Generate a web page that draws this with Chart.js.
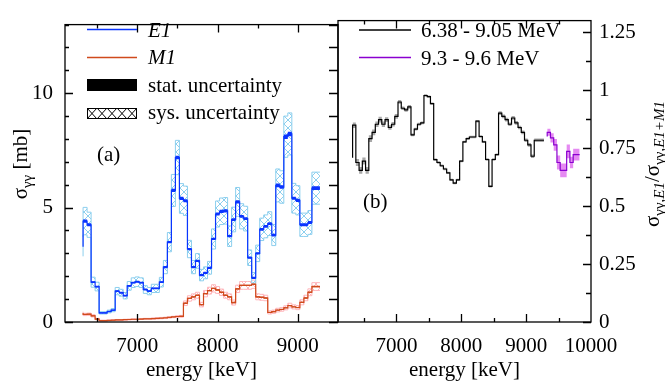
<!DOCTYPE html>
<html lang="en">
<head>
<meta charset="UTF-8">
<title>E1 / M1 cross sections</title>
<script src="https://cdn.jsdelivr.net/npm/chart.js"></script>
<style>
  body { margin: 0; background: #fff; }
  #wrap { position: relative; width: 665px; height: 387px; }
  #wrap canvas { position: absolute; left: 0; top: 0; }
</style>
</head>
<body>
<div id="wrap">
  <canvas id="left" width="665" height="387"></canvas>
  <canvas id="right" width="665" height="387"></canvas>
</div>
<script>
// 50 keV bins, first bin starts at 6325 keV
const binStart = 6325;
const binWidth = 50;

// panel (a): sigma_gg in mb
const e1Values = [3.29, 4.41, 4.25, 1.74, 1.55, 0.40, 0.40, 0.46, 0.52, 1.35,
                  1.28, 1.15, 1.58, 1.72, 1.76, 1.72, 1.42, 1.35, 1.47, 1.47,
                  1.74, 2.40, 3.49, 5.75, 7.19, 5.40, 5.30, 3.19, 2.40, 2.67,
                  2.05, 2.15, 2.37, 3.63, 4.72, 4.84, 4.86, 3.75, 4.48, 5.25,
                  4.62, 4.52, 2.81, 1.93, 3.00, 4.05, 4.18, 4.30, 3.80, 5.97,
                  5.90, 8.10, 8.22, 5.41, 5.32, 4.25, 4.25, 4.35, 5.85];
const e1Stat = [0.06, 0.07, 0.07, 0.04, 0.04, 0.03, 0.03, 0.03, 0.03, 0.04,
                0.04, 0.04, 0.04, 0.04, 0.04, 0.04, 0.04, 0.04, 0.04, 0.04,
                0.04, 0.05, 0.05, 0.07, 0.08, 0.07, 0.07, 0.05, 0.05, 0.05,
                0.05, 0.05, 0.05, 0.05, 0.07, 0.07, 0.07, 0.05, 0.06, 0.07,
                0.06, 0.06, 0.05, 0.05, 0.05, 0.06, 0.06, 0.06, 0.06, 0.08,
                0.08, 0.10, 0.10, 0.07, 0.07, 0.07, 0.07, 0.07, 0.08];
const e1Sys = [0.42, 0.60, 0.55, 0.22, 0.19, 0.05, 0.05, 0.06, 0.07, 0.16,
               0.15, 0.14, 0.19, 0.21, 0.21, 0.21, 0.17, 0.16, 0.18, 0.18,
               0.21, 0.29, 0.42, 0.70, 0.75, 0.65, 0.64, 0.38, 0.29, 0.32,
               0.25, 0.26, 0.28, 0.44, 0.57, 0.58, 0.58, 0.45, 0.54, 0.63,
               0.55, 0.54, 0.34, 0.23, 0.36, 0.49, 0.50, 0.52, 0.46, 0.72,
               0.71, 0.90, 0.92, 0.65, 0.64, 0.51, 0.51, 0.52, 0.70];
const m1Values = [0.39, 0.33, 0.34, 0.27, 0.13, 0.06, 0.06, 0.07, 0.08, 0.09,
                  0.09, 0.10, 0.11, 0.12, 0.12, 0.13, 0.14, 0.14, 0.15, 0.16,
                  0.17, 0.18, 0.20, 0.22, 0.24, 0.25, 0.82, 1.03, 1.10, 1.17,
                  0.76, 1.24, 1.37, 1.47, 1.40, 1.30, 1.17, 1.10, 0.85, 1.45,
                  1.60, 1.60, 1.60, 1.65, 1.10, 1.08, 1.05, 0.42, 0.45, 0.52,
                  0.55, 0.62, 0.72, 0.66, 0.63, 0.86, 1.05, 1.30, 1.55];
const m1Stat = [0.02, 0.02, 0.02, 0.02, 0.02, 0.01, 0.01, 0.01, 0.01, 0.01,
                0.01, 0.01, 0.01, 0.01, 0.01, 0.01, 0.01, 0.01, 0.01, 0.01,
                0.01, 0.01, 0.01, 0.01, 0.02, 0.02, 0.03, 0.03, 0.03, 0.03,
                0.03, 0.03, 0.03, 0.03, 0.03, 0.03, 0.03, 0.03, 0.03, 0.03,
                0.03, 0.03, 0.03, 0.03, 0.03, 0.03, 0.03, 0.02, 0.02, 0.02,
                0.02, 0.02, 0.02, 0.02, 0.02, 0.03, 0.03, 0.03, 0.03];
const m1Sys = [0.06, 0.05, 0.05, 0.05, 0.03, 0.02, 0.02, 0.02, 0.02, 0.02,
               0.02, 0.02, 0.02, 0.02, 0.02, 0.02, 0.02, 0.02, 0.03, 0.03,
               0.03, 0.03, 0.03, 0.03, 0.04, 0.04, 0.10, 0.12, 0.13, 0.13,
               0.10, 0.14, 0.15, 0.16, 0.15, 0.14, 0.13, 0.13, 0.11, 0.16,
               0.17, 0.17, 0.17, 0.18, 0.13, 0.13, 0.12, 0.07, 0.07, 0.08,
               0.08, 0.09, 0.10, 0.09, 0.09, 0.11, 0.12, 0.15, 0.17];

// panel (b): sigma_E1 / sigma_E1+M1
const ratioValues = [0.708, 0.849, 0.688, 0.654, 0.694, 0.654, 0.791, 0.818, 0.853, 0.873,
                     0.853, 0.873, 0.839, 0.853, 0.887, 0.949, 0.922, 0.915, 0.928, 0.807,
                     0.832, 0.853, 0.859, 0.977, 0.972, 0.942, 0.700, 0.688, 0.674, 0.660,
                     0.643, 0.613, 0.599, 0.613, 0.694, 0.777, 0.791, 0.798, 0.798, 0.866,
                     0.800, 0.777, 0.701, 0.585, 0.701, 0.722, 0.901, 0.887, 0.873, 0.853,
                     0.880, 0.859, 0.839, 0.818, 0.784, 0.764, 0.715, 0.784, 0.784];
const ratioErr = [0.015, 0.012, 0.015, 0.015, 0.015, 0.015, 0.015, 0.012, 0.012, 0.012,
                  0.012, 0.010, 0.010, 0.010, 0.010, 0.008, 0.008, 0.008, 0.008, 0.006,
                  0.006, 0.006, 0.006, 0.005, 0.005, 0.005, 0.005, 0.005, 0.005, 0.005,
                  0.005, 0.005, 0.005, 0.005, 0.005, 0.005, 0.005, 0.005, 0.005, 0.005,
                  0.005, 0.005, 0.005, 0.005, 0.005, 0.005, 0.008, 0.008, 0.008, 0.008,
                  0.008, 0.008, 0.008, 0.008, 0.008, 0.008, 0.008, 0.008, 0.008];
const highStart = 9325;
const highValues = [0.800, 0.818, 0.794, 0.764, 0.688, 0.654, 0.654, 0.736, 0.688, 0.722];
const highErr = [0.012, 0.015, 0.020, 0.025, 0.030, 0.030, 0.030, 0.030, 0.025, 0.025];

// axis labels and tick marks
const xLeftLabels = [7000, 8000, 9000];
const xRightLabels = [7000, 8000, 9000, 10000];
const xTickMarks = [6500, 7000, 7500, 8000, 8500, 9000, 9500];
const yLeftLabels = [0, 5, 10];
const yRightLabels = [0, 0.25, 0.5, 0.75, 1, 1.25];

const serif = "'Liberation Serif', 'Times New Roman', serif";
const fontSize = 21;
const e1Color = '#0a35ff';
const e1SysColor = '#8ccfee';
const m1Color = '#d04a1c';
const m1SysColor = '#ffb6bc';
const highColor = '#8a00d0';
const highBand = '#e58af2';

function hatch(canvasId, color, bg, w, h) {
  const tile = document.createElement('canvas');
  tile.width = w || 8; tile.height = h || 8;
  const g = tile.getContext('2d');
  if (bg) { g.fillStyle = bg; g.fillRect(0, 0, tile.width, tile.height); }
  g.strokeStyle = color;
  g.lineWidth = 1;
  g.beginPath();
  g.moveTo(0, 0); g.lineTo(tile.width, tile.height);
  g.moveTo(tile.width, 0); g.lineTo(0, tile.height);
  g.stroke();
  return document.getElementById(canvasId).getContext('2d').createPattern(tile, 'repeat');
}

// histogram as step points: one point per bin edge, last value closes the final bin
function stepPoints(start, vals, err, sign) {
  const pts = vals.map((v, i) => ({ x: start + i * binWidth, y: err ? v + sign * err[i] : v }));
  pts.push({ x: start + vals.length * binWidth, y: pts[pts.length - 1].y });
  return pts;
}

function lineSet(start, vals, color, width) {
  return { data: stepPoints(start, vals), borderColor: color, borderWidth: width,
           stepped: 'after', pointRadius: 0, fill: false, order: 0 };
}

// lower + upper edge, the upper one filled down to the lower one
function bandSets(start, vals, err, fillStyle, edgeColor, order) {
  const edge = edgeColor ? { borderColor: edgeColor, borderWidth: 1 } : { borderColor: 'transparent', borderWidth: 0 };
  return [
    Object.assign({ data: stepPoints(start, vals, err, -1), stepped: 'after', pointRadius: 0, fill: false, order }, edge),
    Object.assign({ data: stepPoints(start, vals, err, 1), stepped: 'after', pointRadius: 0,
                    fill: '-1', backgroundColor: fillStyle, order }, edge)
  ];
}

// frame with inward ticks on every side
const frameTicks = {
  id: 'frameTicks',
  afterDatasetsDraw(chart, args, o) {
    const { ctx, chartArea: a, scales: { x, y } } = chart;
    ctx.save();
    ctx.strokeStyle = '#000';
    ctx.lineWidth = 1.3;
    ctx.beginPath();
    o.xTicks.forEach(v => {
      const px = Math.round(x.getPixelForValue(v)) + 0.5;
      const len = v % 1000 === 0 ? 8 : 4;
      ctx.moveTo(px, a.bottom); ctx.lineTo(px, a.bottom - len);
      ctx.moveTo(px, a.top); ctx.lineTo(px, a.top + len);
    });
    (o.leftTicks || []).forEach(t => {
      const py = Math.round(y.getPixelForValue(t[0])) + 0.5;
      ctx.moveTo(a.left, py); ctx.lineTo(a.left + t[1], py);
    });
    (o.rightTicks || []).forEach(t => {
      const py = Math.round(y.getPixelForValue(t[0])) + 0.5;
      ctx.moveTo(a.right, py); ctx.lineTo(a.right - t[1], py);
    });
    ctx.stroke();
    ctx.strokeRect(a.left, a.top, a.right - a.left, a.bottom - a.top);
    ctx.restore();
  }
};

// rotated axis title built from runs of text (for subscripts)
function rotatedTitle(ctx, runs, cx, cy) {
  ctx.save();
  ctx.translate(cx, cy);
  ctx.rotate(-Math.PI / 2);
  let total = 0;
  runs.forEach(r => {
    ctx.font = (r.it ? 'italic ' : '') + r.size + 'px ' + serif;
    r.w = ctx.measureText(r.t).width;
    total += r.w;
  });
  let px = -total / 2;
  ctx.fillStyle = '#000';
  ctx.textBaseline = 'alphabetic';
  runs.forEach(r => {
    ctx.font = (r.it ? 'italic ' : '') + r.size + 'px ' + serif;
    ctx.fillText(r.t, px, r.dy);
    px += r.w;
  });
  ctx.restore();
}

const leftDecor = {
  id: 'leftDecor',
  afterDraw(chart) {
    const ctx = chart.ctx;
    ctx.save();
    ctx.lineWidth = 1.5;
    ctx.strokeStyle = e1Color;
    ctx.beginPath(); ctx.moveTo(87, 29.5); ctx.lineTo(137, 29.5); ctx.stroke();
    ctx.strokeStyle = m1Color;
    ctx.beginPath(); ctx.moveTo(87, 57.5); ctx.lineTo(137, 57.5); ctx.stroke();
    ctx.fillStyle = '#000';
    ctx.fillRect(87, 79, 50, 12);
    ctx.save();
    ctx.translate(87, 108);
    ctx.fillStyle = hatch('left', '#000', '#fff', 10, 11);
    ctx.fillRect(0, 0, 50, 11);
    ctx.restore();
    ctx.lineWidth = 1;
    ctx.strokeStyle = '#000';
    ctx.strokeRect(87.5, 108.5, 49, 10);

    ctx.fillStyle = '#000';
    ctx.textBaseline = 'alphabetic';
    ctx.font = 'italic ' + fontSize + 'px ' + serif;
    ctx.fillText('E1', 148, 37);
    ctx.fillText('M1', 148, 64);
    ctx.font = fontSize + 'px ' + serif;
    ctx.fillText('stat. uncertainty', 148, 92);
    ctx.fillText('sys. uncertainty', 148, 119);
    ctx.fillText('(a)', 97, 161);
    ctx.restore();

    rotatedTitle(ctx, [
      { t: 'σ', size: fontSize, dy: 0 },
      { t: 'γγ', size: 15, dy: 5 },
      { t: ' [mb]', size: fontSize, dy: 0 }
    ], 27, 164);
  }
};

const rightDecor = {
  id: 'rightDecor',
  afterDraw(chart) {
    const ctx = chart.ctx;
    ctx.save();
    ctx.lineWidth = 1.3;
    ctx.strokeStyle = '#000';
    ctx.beginPath(); ctx.moveTo(359, 30); ctx.lineTo(411, 30); ctx.stroke();
    ctx.strokeStyle = highColor;
    ctx.beginPath(); ctx.moveTo(359, 57.5); ctx.lineTo(411, 57.5); ctx.stroke();
    ctx.fillStyle = '#000';
    ctx.font = fontSize + 'px ' + serif;
    ctx.textBaseline = 'alphabetic';
    ctx.fillText('6.38 - 9.05 MeV', 421, 37);
    ctx.fillText('9.3 - 9.6 MeV', 421, 64.5);
    ctx.fillText('(b)', 363, 207.5);
    ctx.restore();

    rotatedTitle(ctx, [
      { t: 'σ', size: fontSize, dy: 0 },
      { t: 'γγ,', size: 15, dy: 5 },
      { t: 'E1', size: 15, dy: 5, it: true },
      { t: '/σ', size: fontSize, dy: 0 },
      { t: 'γγ,', size: 15, dy: 5 },
      { t: 'E1+M1', size: 15, dy: 5, it: true }
    ], 659, 164);
  }
};

function xScale(min, max, labels) {
  return {
    type: 'linear', min, max,
    afterFit: s => { s.height = 65; },
    afterBuildTicks: s => { s.ticks = labels.map(v => ({ value: v })); },
    grid: { display: false, drawTicks: false },
    border: { display: false },
    ticks: { color: '#000', font: { family: serif, size: fontSize }, padding: 12, maxRotation: 0,
             autoSkip: false, callback: v => String(v) },
    title: { display: true, text: 'energy [keV]', color: '#000',
             font: { family: serif, size: fontSize }, padding: { top: 0, bottom: 4 } }
  };
}

// panel (a)
const leftTickY = [];
for (let v = 0; v <= 13; v++) leftTickY.push(v);

new Chart(document.getElementById('left'), {
  type: 'line',
  data: {
    datasets: [
      lineSet(binStart, e1Values, e1Color, 1.2),
      lineSet(binStart, m1Values, m1Color, 1.2),
      ...bandSets(binStart, e1Values, e1Stat, e1Color, null, 1),
      ...bandSets(binStart, m1Values, m1Stat, m1Color, null, 1),
      ...bandSets(binStart, e1Values, e1Sys, hatch('left', e1SysColor), e1SysColor, 2),
      ...bandSets(binStart, m1Values, m1Sys, hatch('left', m1SysColor), m1SysColor, 2)
    ]
  },
  options: {
    responsive: false,
    animation: false,
    events: [],
    devicePixelRatio: 1,
    layout: { padding: { left: 0, right: 327, top: 6, bottom: 0 } },
    scales: {
      x: xScale(6100, 9500, xLeftLabels),
      y: {
        type: 'linear', min: 0, max: 13,
        afterFit: s => { s.width = 65; },
        afterBuildTicks: s => { s.ticks = yLeftLabels.map(v => ({ value: v })); },
        grid: { display: false, drawTicks: false },
        border: { display: false },
        ticks: { color: '#000', font: { family: serif, size: fontSize }, padding: 12, callback: v => String(v) }
      }
    },
    plugins: {
      legend: { display: false },
      tooltip: { enabled: false },
      frameTicks: {
        xTicks: xTickMarks.slice(0, 6),
        leftTicks: leftTickY.map(v => [v, v % 5 === 0 ? 8 : 4]),
        rightTicks: leftTickY.map(v => [v, 9])
      }
    }
  },
  plugins: [frameTicks, leftDecor]
});

// panel (b)
const rightTickY = [];
for (let v = 0; v <= 10; v++) rightTickY.push(v * 0.125);

new Chart(document.getElementById('right'), {
  type: 'line',
  data: {
    datasets: [
      lineSet(binStart, ratioValues, '#000', 1.2),
      lineSet(highStart, highValues, highColor, 1.2),
      ...bandSets(binStart, ratioValues, ratioErr, '#a8a8a8', null, 1),
      ...bandSets(highStart, highValues, highErr, highBand, null, 1)
    ]
  },
  options: {
    responsive: false,
    animation: false,
    events: [],
    devicePixelRatio: 1,
    layout: { padding: { left: 338, right: 0, top: 6, bottom: 0 } },
    scales: {
      x: xScale(6100, 10000, xRightLabels),
      y: {
        type: 'linear', position: 'right', min: 0, max: 1.3,
        afterFit: s => { s.width = 74; },
        afterBuildTicks: s => { s.ticks = yRightLabels.map(v => ({ value: v })); },
        grid: { display: false, drawTicks: false },
        border: { display: false },
        ticks: { color: '#000', font: { family: serif, size: fontSize }, padding: 8, callback: v => String(v) }
      }
    },
    plugins: {
      legend: { display: false },
      tooltip: { enabled: false },
      frameTicks: {
        xTicks: xTickMarks,
        rightTicks: rightTickY.map((v, i) => [v, i % 2 === 0 ? 8 : 5])
      }
    }
  },
  plugins: [frameTicks, rightDecor]
});
</script>
</body>
</html>
